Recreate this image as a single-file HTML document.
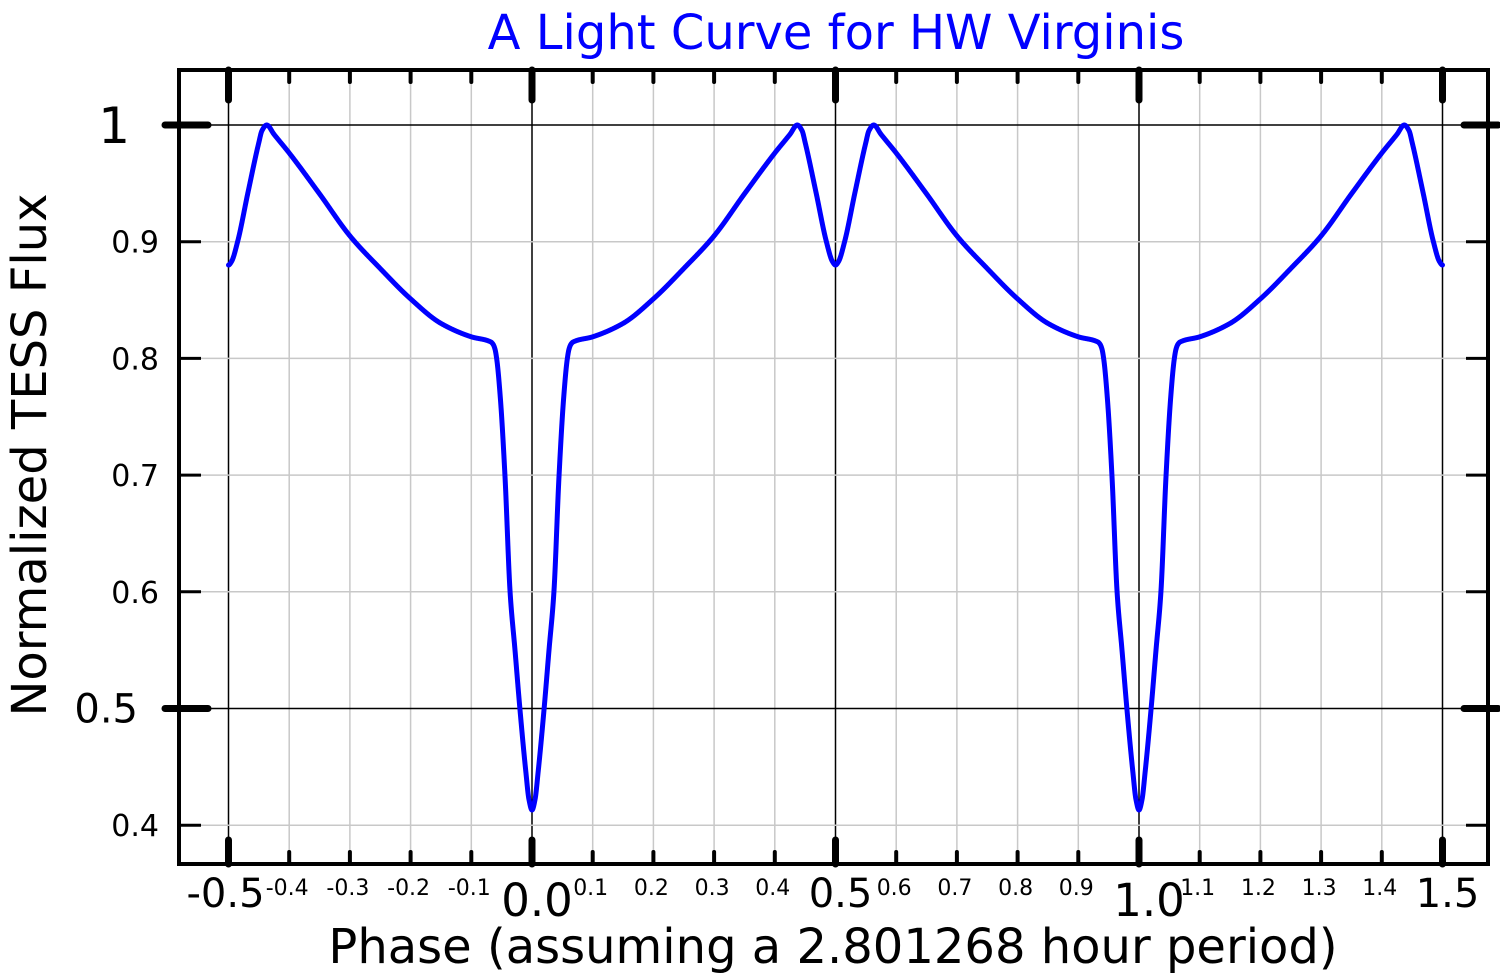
<!DOCTYPE html>
<html><head><meta charset="utf-8"><style>
html,body{margin:0;padding:0;background:#fff;}
svg{display:block;font-family:"DejaVu Sans","Liberation Sans",sans-serif;}
</style></head><body>
<svg id="s" width="1500" height="975" viewBox="0 0 1500 975" xmlns="http://www.w3.org/2000/svg">
<g id="grid"></g>
<polyline id="curve" fill="none" stroke="#0000ff" stroke-width="5" stroke-linejoin="round" stroke-linecap="round" points=""/>
<rect x="179" y="70" width="1309" height="794" fill="none" stroke="#000" stroke-width="4"/>
<g id="ticks"></g>
<g id="labels" fill="#000"></g>
<text x="836" y="49" font-size="48" fill="#0000ff" text-anchor="middle">A Light Curve for HW Virginis</text>
<text x="833" y="963" font-size="48" text-anchor="middle">Phase (assuming a 2.801268 hour period)</text>
<text transform="translate(46,455) rotate(-90)" font-size="48" text-anchor="middle">Normalized TESS Flux</text>
</svg>
<script>
var NS="http://www.w3.org/2000/svg";
function X(p){return 532+(p)*607;}
function Y(f){return 125+(1-f)*1167;}
function el(t,a,par,txt){var e=document.createElementNS(NS,t);for(var k in a)e.setAttribute(k,a[k]);if(txt!==undefined)e.textContent=txt;document.getElementById(par).appendChild(e);return e;}
for(var i=-5;i<=15;i++){var x=X(i/10);var maj=(i%5===0);
 el('line',{x1:x,y1:70,x2:x,y2:864,stroke:maj?'#000':'#c8c8c8',"stroke-width":1.5},'grid');}
for(var j=4;j<=10;j++){var y=Y(j/10);var maj=(j===5||j===10);
 el('line',{x1:179,y1:y,x2:1488,y2:y,stroke:maj?'#000':'#c8c8c8',"stroke-width":1.5},'grid');}
for(var i=-5;i<=15;i++){var x=X(i/10);var maj=(i%5===0);
 if(maj){el('line',{x1:x,y1:70,x2:x,y2:100,stroke:'#000',"stroke-width":7,"stroke-linecap":"round"},'ticks');
  el('line',{x1:x,y1:864,x2:x,y2:840,stroke:'#000',"stroke-width":7,"stroke-linecap":"round"},'ticks');}
 else{el('line',{x1:x,y1:70,x2:x,y2:82,stroke:'#000',"stroke-width":4,"stroke-linecap":"round"},'ticks');
  el('line',{x1:x,y1:864,x2:x,y2:852,stroke:'#000',"stroke-width":4,"stroke-linecap":"round"},'ticks');}}
for(var j=4;j<=10;j++){var y=Y(j/10);var maj=(j===5||j===10);
 if(maj){el('line',{x1:165,y1:y,x2:208,y2:y,stroke:'#000',"stroke-width":7,"stroke-linecap":"round"},'ticks');
  el('line',{x1:1464,y1:y,x2:1498,y2:y,stroke:'#000',"stroke-width":7,"stroke-linecap":"round"},'ticks');}
 else{el('line',{x1:179,y1:y,x2:201,y2:y,stroke:'#000',"stroke-width":3},'ticks');
  el('line',{x1:1466,y1:y,x2:1488,y2:y,stroke:'#000',"stroke-width":3},'ticks');}}
[[0.4,'0.4'],[0.6,'0.6'],[0.7,'0.7'],[0.8,'0.8'],[0.9,'0.9']].forEach(function(a){el('text',{x:159,y:Y(a[0])+11,"font-size":30,"text-anchor":"end"},'labels',a[1]);});
el('text',{x:130,y:Y(1)+18,"font-size":50,"text-anchor":"end"},'labels','1');
el('text',{x:138,y:Y(0.5)+14,"font-size":40,"text-anchor":"end"},'labels','0.5');
var small={'-4':'-0.4','-3':'-0.3','-2':'-0.2','-1':'-0.1','1':'0.1','2':'0.2','3':'0.3','4':'0.4','6':'0.6','7':'0.7','8':'0.8','9':'0.9','11':'1.1','12':'1.2','13':'1.3','14':'1.4'};
for(var k in small){el('text',{x:X(k/10)-2,y:895,"font-size":22,"text-anchor":"middle"},'labels',small[k]);}
el('text',{x:X(-0.5)-3,y:907,"font-size":40,"text-anchor":"middle"},'labels','-0.5');
el('text',{x:X(0)+5,y:916,"font-size":45,"text-anchor":"middle"},'labels','0.0');
el('text',{x:X(0.5)+5,y:907,"font-size":40,"text-anchor":"middle"},'labels','0.5');
el('text',{x:X(1)+10,y:916,"font-size":45,"text-anchor":"middle"},'labels','1.0');
el('text',{x:X(1.5)+5,y:907,"font-size":40,"text-anchor":"middle"},'labels','1.5');
var H=[[0,0.413],[0.005,0.422],[0.01,0.445],[0.0198,0.499],[0.028,0.55],[0.036,0.599],[0.0445,0.699],[0.052,0.765],[0.058,0.799],[0.061,0.808],[0.064,0.812],[0.0675,0.814],[0.1,0.8185],[0.15,0.830],[0.2,0.851],[0.25,0.877],[0.3,0.905],[0.35,0.941],[0.4,0.976],[0.425,0.992],[0.437,1.0],[0.445,0.995],[0.45,0.985],[0.468,0.942],[0.485,0.90],[0.495,0.883],[0.5,0.88]];
// monotone cubic (Fritsch-Carlson)
var n=H.length,d=[],m=[];
for(var i=0;i<n-1;i++)d.push((H[i+1][1]-H[i][1])/(H[i+1][0]-H[i][0]));
m[0]=d[0];m[n-1]=0;
for(var i=1;i<n-1;i++){if(d[i-1]*d[i]<=0)m[i]=0;else{var h0=H[i][0]-H[i-1][0],h1=H[i+1][0]-H[i][0];m[i]=3*(h0+h1)/((2*h1+h0)/d[i-1]+(h1+2*h0)/d[i]);}}
m[0]=0;
function flux(p){p=((p%1)+1)%1;if(p>0.5)p=1-p;for(var i=1;i<n;i++){if(p<=H[i][0]){var a=H[i-1],b=H[i],h=b[0]-a[0];var t=(p-a[0])/h;var t2=t*t,t3=t2*t;
 return (2*t3-3*t2+1)*a[1]+(t3-2*t2+t)*h*m[i-1]+(-2*t3+3*t2)*b[1]+(t3-t2)*h*m[i];}}return 0.88;}
var pts=[];for(var k=0;k<=6000;k++){var p=-0.5+2*k/6000;pts.push(X(p).toFixed(2)+','+Y(flux(p)).toFixed(2));}
document.getElementById('curve').setAttribute('points',pts.join(' '));
</script>
</body></html>
